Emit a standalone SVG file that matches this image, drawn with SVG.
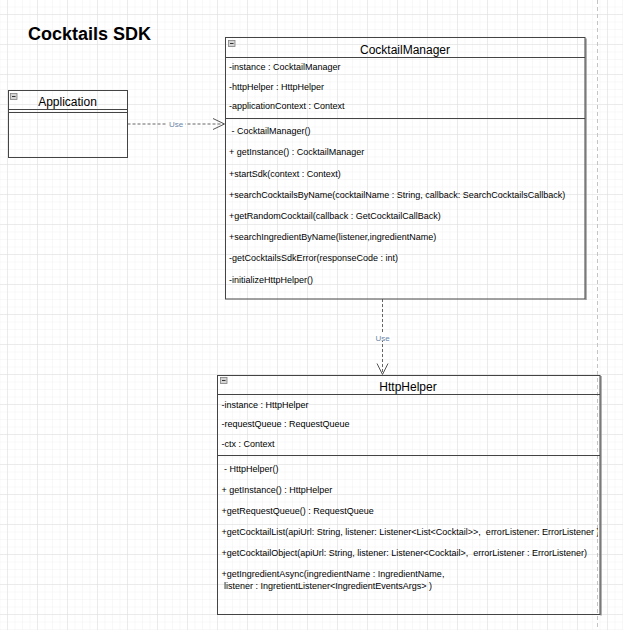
<svg xmlns="http://www.w3.org/2000/svg" width="623" height="630" viewBox="0 0 623 630">
  <style>
    .t { font-family: "Liberation Sans", Arial, sans-serif; fill: #000; }
    .title { font-size: 12px; text-anchor: middle; }
    .m { font-size: 9px; white-space: pre; }
    .box { fill: none; stroke: #444; stroke-width: 1; }
    .shadow { fill: none; stroke: #999; stroke-width: 1.5; }
    .div { stroke: #444; stroke-width: 1; }
    .icon { fill: #d4d4d4; stroke: #808080; stroke-width: 0.8; }
    .iconbar { stroke: #333; stroke-width: 1; }
    .edge { fill: none; stroke: #666; stroke-width: 1; stroke-dasharray: 3 2; }
    .arrow { fill: none; stroke: #555; stroke-width: 1; }
    .lbl { font-family: "Liberation Sans", Arial, sans-serif; font-size: 8px; fill: #6c86a8; text-anchor: middle; }
  </style>
  <defs>
    <pattern id="minor" patternUnits="userSpaceOnUse" x="7" y="6.5" width="7.5" height="7.5">
      <path d="M0 0 H7.5 M0 0 V7.5" stroke="#f1f1f1" stroke-width="1" fill="none"/>
    </pattern>
    <pattern id="major" patternUnits="userSpaceOnUse" x="7" y="14" width="30" height="30">
      <path d="M0 0 H30 M0 0 V30" stroke="#dddddd" stroke-width="1" fill="none"/>
    </pattern>
    <clipPath id="hhclip">
      <rect x="217" y="375" width="381" height="240"/>
    </clipPath>
  </defs>

  <rect width="623" height="630" fill="#ffffff"/>
  <rect width="623" height="630" fill="url(#minor)"/>
  <rect width="623" height="630" fill="url(#major)"/>
  <line x1="597.5" y1="0" x2="597.5" y2="630" stroke="#c4c4c4" stroke-width="1" stroke-dasharray="4 3"/>

  <text class="t" x="28" y="40" font-size="18" font-weight="bold">Cocktails SDK</text>

  <g id="connectors">
    <g id="edge-app-cm">
      <line class="edge" x1="127.5" y1="124" x2="224" y2="124"/>
      <polyline class="arrow" points="213,118.5 224.5,124 213,129.5"/>
      <rect x="167" y="120" width="18" height="8" fill="#ffffff"/>
      <text class="lbl" x="176" y="127">Use</text>
    </g>
    <g id="edge-cm-hh">
      <line class="edge" x1="382.5" y1="299" x2="382.5" y2="374"/>
      <polyline class="arrow" points="377,363.5 382.5,374.5 388,363.5"/>
      <rect x="374" y="333" width="17" height="8" fill="#ffffff"/>
      <text class="lbl" x="382.5" y="341">Use</text>
    </g>
  </g>

  <g id="Application">
    <rect class="box" x="8.5" y="90.5" width="119" height="67"/>
    <line class="div" x1="8.5" y1="109.5" x2="127.5" y2="109.5"/>
    <line class="div" x1="8.5" y1="112.5" x2="127.5" y2="112.5"/>
    <rect class="icon" x="10.5" y="93.5" width="6.5" height="6"/>
    <line class="iconbar" x1="12" y1="96.5" x2="15.5" y2="96.5"/>
    <text class="t title" x="67.5" y="106">Application</text>
  </g>

  <g id="CocktailManager">
    <line class="shadow" x1="586" y1="38.5" x2="586" y2="300"/>
    <rect class="box" x="225.5" y="37.5" width="359.5" height="261.5"/>
    <line class="div" x1="225.5" y1="57.5" x2="585" y2="57.5"/>
    <line class="div" x1="225.5" y1="118.5" x2="585" y2="118.5"/>
    <rect class="icon" x="228.5" y="40.5" width="6.5" height="6"/>
    <line class="iconbar" x1="230" y1="43.5" x2="233.5" y2="43.5"/>
    <text class="t title" x="405" y="54">CocktailManager</text>
    <text class="t m" x="229" y="70">-instance : CocktailManager</text>
    <text class="t m" x="229" y="89.5">-httpHelper : HttpHelper</text>
    <text class="t m" x="229" y="109">-applicationContext : Context</text>
    <text class="t m" x="229" y="134"> - CocktailManager()</text>
    <text class="t m" x="229" y="155.3">+ getInstance() : CocktailManager</text>
    <text class="t m" x="229" y="176.6">+startSdk(context : Context)</text>
    <text class="t m" x="229" y="197.8">+searchCocktailsByName(cocktailName : String, callback: SearchCocktailsCallback)</text>
    <text class="t m" x="229" y="219">+getRandomCocktail(callback : GetCocktailCallBack)</text>
    <text class="t m" x="229" y="240.2">+searchIngredientByName(listener,ingredientName)</text>
    <text class="t m" x="229" y="261.4">-getCocktailsSdkError(responseCode : int)</text>
    <text class="t m" x="229" y="282.6">-initializeHttpHelper()</text>
  </g>

  <g id="HttpHelper">
    <line class="shadow" x1="601" y1="376" x2="601" y2="615.5"/>
    <rect class="box" x="217.5" y="375.5" width="382.5" height="239"/>
    <line class="div" x1="217.5" y1="394.5" x2="600" y2="394.5"/>
    <line class="div" x1="217.5" y1="455.5" x2="600" y2="455.5"/>
    <rect class="icon" x="220.5" y="377.5" width="6.5" height="6"/>
    <line class="iconbar" x1="222" y1="380.5" x2="225.5" y2="380.5"/>
    <text class="t title" x="408" y="391">HttpHelper</text>
    <g clip-path="url(#hhclip)">
      <text class="t m" x="221.5" y="408.3">-instance : HttpHelper</text>
      <text class="t m" x="221.5" y="427.3">-requestQueue : RequestQueue</text>
      <text class="t m" x="221.5" y="447">-ctx : Context</text>
      <text class="t m" x="221.5" y="472"> - HttpHelper()</text>
      <text class="t m" x="221.5" y="493.3">+ getInstance() : HttpHelper</text>
      <text class="t m" x="221.5" y="514">+getRequestQueue() : RequestQueue</text>
      <text class="t m" x="221.5" y="535">+getCocktailList(apiUrl: String, listener: Listener&lt;List&lt;Cocktail&gt;&gt;,  errorListener: ErrorListener )</text>
      <text class="t m" x="221.5" y="556">+getCocktailObject(apiUrl: String, listener: Listener&lt;Cocktail&gt;,  errorListener : ErrorListener)</text>
      <text class="t m" x="221.5" y="577">+getIngredientAsync(ingredientName : IngredientName,</text>
      <text class="t m" x="221.5" y="588.5"> listener : IngretientListener&lt;IngredientEventsArgs&gt; )</text>
    </g>
  </g>
</svg>
